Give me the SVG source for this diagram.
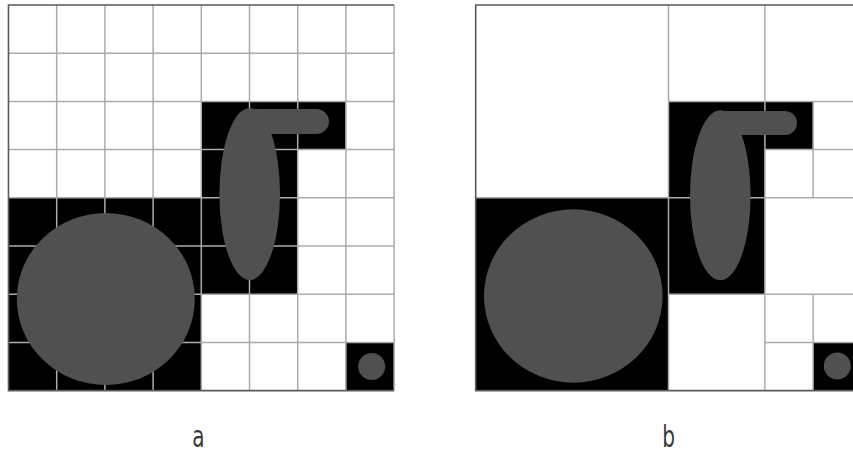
<svg xmlns="http://www.w3.org/2000/svg" width="853" height="454" viewBox="0 0 853 454">
  <style>
    .blk { fill: #000000; }
    .shape { fill: #505050; }
    .grid { fill: none; stroke: #ababab; stroke-width: 1.5; }
    .border { fill: none; stroke: #5a5a5a; stroke-width: 1.6; }
    .lbl { font-family: "DejaVu Sans Condensed", "DejaVu Sans", sans-serif; font-size: 31px; fill: #3a3a3a; text-anchor: middle; }
  </style>
  <rect width="853" height="454" fill="#ffffff"/>

  <g id="grid-a">
    <rect class="blk" x="201.3" y="101.4" width="144.6" height="48.2"/>
    <rect class="blk" x="201.3" y="149.6" width="96.4" height="48.2"/>
    <rect class="blk" x="8.5" y="197.8" width="289.2" height="96.4"/>
    <rect class="blk" x="8.5" y="294.2" width="192.8" height="96.4"/>
    <rect class="blk" x="345.9" y="342.4" width="48.2" height="48.2"/>
    <path class="grid" d="M56.7 5V390.6M104.9 5V390.6M153.1 5V390.6M201.3 5V390.6M249.5 5V390.6M297.7 5V390.6M345.9 5V390.6M394.1 5V390.6
      M8.5 53.2H394.1M8.5 101.4H394.1M8.5 149.6H394.1M8.5 197.8H394.1M8.5 246H394.1M8.5 294.2H394.1M8.5 342.4H394.1"/>
    <path class="border" d="M394.1 5H8.5V390.6H394.1"/>
    <ellipse class="shape" cx="105.8" cy="299" rx="89" ry="86"/>
    <ellipse class="shape" cx="249.7" cy="194" rx="30.3" ry="86"/>
    <path class="shape" d="M250 110Q253 109 258 109H316.5A12.5 12.5 0 0 1 316.5 134H268L252 120Z"/>
    <circle class="shape" cx="371.7" cy="366.5" r="13.5"/>
  </g>

  <g id="grid-b">
    <rect class="blk" x="668.5" y="101.4" width="96.4" height="96.4"/>
    <rect class="blk" x="764.9" y="101.4" width="48.2" height="48.2"/>
    <rect class="blk" x="475.7" y="197.8" width="192.8" height="192.8"/>
    <rect class="blk" x="668.5" y="197.8" width="96.4" height="96.4"/>
    <rect class="blk" x="813.1" y="342.4" width="48.2" height="48.2"/>
    <path class="grid" d="M668.5 5V390.6M475.7 197.8H861.3
      M764.9 5V197.8M668.5 101.4H861.3
      M813.1 101.4V197.8M764.9 149.6H861.3
      M764.9 197.8V390.6M668.5 294.2H861.3
      M813.1 294.2V390.6M764.9 342.4H861.3"/>
    <path class="border" d="M861.3 5H475.7V390.6H861.3"/>
    <ellipse class="shape" cx="573.3" cy="296" rx="89.3" ry="86.7"/>
    <ellipse class="shape" cx="720.3" cy="195.3" rx="30.3" ry="85"/>
    <path class="shape" d="M720.5 112Q723.5 111 728.5 111H785A12 12 0 0 1 785 135H738.5L722.5 122Z"/>
    <circle class="shape" cx="837.3" cy="366" r="13.5"/>
  </g>

  <g id="labels">
    <text class="lbl" transform="translate(198.3 447) scale(0.72 1)">a</text>
    <text class="lbl" transform="translate(668.7 447) scale(0.72 1)">b</text>
  </g>
</svg>
